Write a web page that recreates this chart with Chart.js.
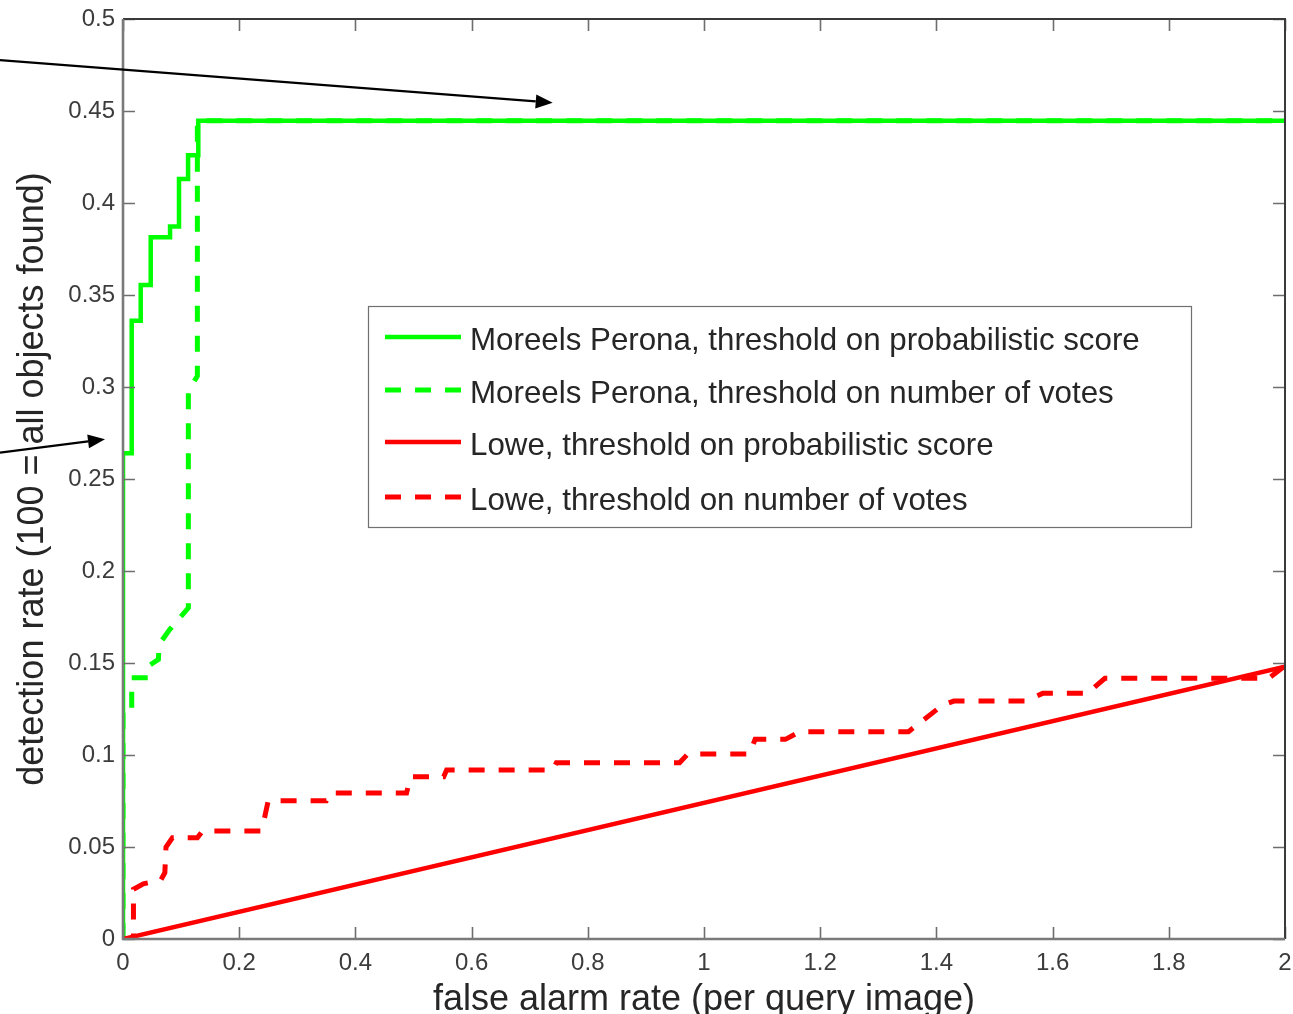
<!DOCTYPE html>
<html>
<head>
<meta charset="utf-8">
<script src="https://cdn.jsdelivr.net/npm/chart.js@4/dist/chart.umd.min.js"></script>
<style>
  html, body { margin: 0; padding: 0; background: #ffffff; overflow: hidden; }
  #wrap { width: 1293px; height: 1014px; position: relative; }
  #roc { display: block; }
</style>
</head>
<body>
<div id="wrap"><canvas id="roc" width="1293" height="1014"></canvas></div>
<script>
// Legend labels, in drawing order
const seriesLabels = [
  'Moreels Perona, threshold on probabilistic score',
  'Moreels Perona, threshold on number of votes',
  'Lowe, threshold on probabilistic score',
  'Lowe, threshold on number of votes'
];

// Moreels Perona, probabilistic score (step curve)
const mpScoreX = [0, 0, 0.015, 0.0305, 0.0477, 0.081, 0.0964, 0.112, 0.1296, 2];
const mpScoreY = [0, 0.264, 0.336, 0.3554, 0.3814, 0.3872, 0.413, 0.426, 0.4447, 0.4447];

// Moreels Perona, number of votes
const mpVotesX = [0, 0, 0.015, 0.015, 0.044, 0.047, 0.061, 0.062, 0.08, 0.1125, 0.1125, 0.128, 0.128, 2];
const mpVotesY = [0, 0.123, 0.123, 0.142, 0.142, 0.149, 0.152, 0.160, 0.168, 0.180, 0.298, 0.306, 0.4447, 0.4447];

// Lowe, probabilistic score
const loweScoreX = [0, 2];
const loweScoreY = [0, 0.148];

// Lowe, number of votes
const loweVotesX = [0, 0.018, 0.018, 0.035, 0.065, 0.072, 0.074, 0.085, 0.128, 0.137, 0.237, 0.243, 0.25,
                    0.35, 0.356, 0.488, 0.495, 0.552, 0.557, 0.74, 0.746, 0.958, 0.972, 1.078, 1.088,
                    1.14, 1.165, 1.352, 1.41, 1.43, 1.553, 1.583, 1.66, 1.69, 1.972, 2.0];
const loweVotesY = [0, 0, 0.027, 0.030, 0.032, 0.036, 0.05, 0.055, 0.055, 0.0587, 0.0587, 0.065, 0.0752,
                    0.0752, 0.0793, 0.0793, 0.0882, 0.0882, 0.0918, 0.0918, 0.0958, 0.0958, 0.1005, 0.1005, 0.1085,
                    0.1085, 0.1127, 0.1127, 0.127, 0.1293, 0.1293, 0.1335, 0.1335, 0.1417, 0.1417, 0.1485];

// Axis ranges and tick steps
const xRange = [0, 2];
const yRange = [0, 0.5];
const xStep = 0.2;
const yStep = 0.05;

// Axis titles
const xTitle = 'false alarm rate (per query image)';
const yTitle = 'detection rate (100 = all objects found)';

// Annotation arrows, in axis units (start -> head)
const arrowFromX = [-0.2117, -0.2117];
const arrowFromY = [0.4777, 0.2643];
const arrowToX   = [0.7396, -0.031];
const arrowToY   = [0.4545, 0.2716];

const GREEN = '#00ff00';
const RED = '#ff0000';
const DASH = [16, 14];

function toPoints(xs, ys) { return xs.map((x, i) => ({ x, y: ys[i] })); }

const FONT = "'Liberation Sans', Arial, Helvetica, sans-serif";

// Inward ticks on all four sides plus the axes box
const boxPlugin = {
  id: 'boxPlugin',
  afterDatasetsDraw(chart) {
    const { ctx, chartArea: a, scales: { x, y } } = chart;
    const len = 12;
    ctx.save();
    ctx.strokeStyle = '#6e6e6e';
    ctx.lineWidth = 1.6;
    ctx.beginPath();
    x.ticks.forEach(t => {
      const px = Math.round(x.getPixelForValue(t.value)) + 0.5;
      ctx.moveTo(px, a.bottom); ctx.lineTo(px, a.bottom - len);
      ctx.moveTo(px, a.top); ctx.lineTo(px, a.top + len);
    });
    y.ticks.forEach(t => {
      const py = Math.round(y.getPixelForValue(t.value)) + 0.5;
      ctx.moveTo(a.left, py); ctx.lineTo(a.left + len, py);
      ctx.moveTo(a.right, py); ctx.lineTo(a.right - len, py);
    });
    ctx.stroke();
    // top and right edges
    ctx.strokeStyle = '#3a3a3a';
    ctx.lineWidth = 2;
    ctx.beginPath();
    ctx.moveTo(a.left, a.top); ctx.lineTo(a.right, a.top); ctx.lineTo(a.right, a.bottom);
    ctx.stroke();
    // left and bottom edges
    ctx.strokeStyle = '#7a7a7a';
    ctx.lineWidth = 2.6;
    ctx.beginPath();
    ctx.moveTo(a.left, a.top); ctx.lineTo(a.left, a.bottom); ctx.lineTo(a.right, a.bottom);
    ctx.stroke();
    ctx.restore();
  }
};

// Boxed legend inside the plot
const legendPlugin = {
  id: 'legendPlugin',
  afterDatasetsDraw(chart) {
    const { ctx } = chart;
    const box = { left: 368, top: 306, right: 1191, bottom: 527 };
    const rows = [337, 390, 442, 497];
    ctx.save();
    ctx.fillStyle = '#ffffff';
    ctx.fillRect(box.left, box.top, box.right - box.left, box.bottom - box.top);
    ctx.strokeStyle = '#707070';
    ctx.lineWidth = 1.2;
    ctx.strokeRect(box.left + 0.5, box.top + 0.5, box.right - box.left, box.bottom - box.top);
    chart.data.datasets.forEach((ds, i) => {
      const yy = rows[i];
      ctx.strokeStyle = ds.borderColor;
      ctx.lineWidth = ds.borderWidth;
      ctx.setLineDash(ds.borderDash || []);
      ctx.lineDashOffset = 0;
      ctx.beginPath();
      ctx.moveTo(385, yy); ctx.lineTo(461, yy);
      ctx.stroke();
      ctx.setLineDash([]);
      ctx.fillStyle = '#262626';
      ctx.font = '31.3px ' + FONT;
      ctx.textAlign = 'left';
      ctx.textBaseline = 'alphabetic';
      ctx.fillText(ds.label, 470, yy + 13);
    });
    ctx.restore();
  }
};

// Annotation arrows drawn through the axis scales
const arrowPlugin = {
  id: 'arrowPlugin',
  afterDraw(chart) {
    const { ctx, scales: { x, y } } = chart;
    ctx.save();
    ctx.strokeStyle = '#000000';
    ctx.fillStyle = '#000000';
    ctx.lineWidth = 2.2;
    for (let i = 0; i < arrowFromX.length; i++) {
      const x0 = x.getPixelForValue(arrowFromX[i]);
      const y0 = y.getPixelForValue(arrowFromY[i]);
      const x1 = x.getPixelForValue(arrowToX[i]);
      const y1 = y.getPixelForValue(arrowToY[i]);
      const ang = Math.atan2(y1 - y0, x1 - x0);
      const hl = 17, hw = 7;
      const bx = x1 - hl * Math.cos(ang), by = y1 - hl * Math.sin(ang);
      ctx.beginPath();
      ctx.moveTo(x0, y0); ctx.lineTo(bx, by);
      ctx.stroke();
      ctx.beginPath();
      ctx.moveTo(x1, y1);
      ctx.lineTo(bx - hw * Math.sin(ang), by + hw * Math.cos(ang));
      ctx.lineTo(bx + hw * Math.sin(ang), by - hw * Math.cos(ang));
      ctx.closePath();
      ctx.fill();
    }
    ctx.restore();
  }
};

const fmt = v => String(+Number(v).toFixed(2));

new Chart(document.getElementById('roc'), {
  type: 'scatter',
  data: {
    datasets: [
      { label: seriesLabels[0], data: toPoints(mpScoreX, mpScoreY), showLine: true, stepped: true,
        borderColor: GREEN, borderWidth: 4.5, pointRadius: 0, order: 3 },
      { label: seriesLabels[1], data: toPoints(mpVotesX, mpVotesY), showLine: true,
        borderColor: GREEN, borderWidth: 5, borderDash: DASH, pointRadius: 0, order: 2 },
      { label: seriesLabels[2], data: toPoints(loweScoreX, loweScoreY), showLine: true,
        borderColor: RED, borderWidth: 4.5, pointRadius: 0, order: 1 },
      { label: seriesLabels[3], data: toPoints(loweVotesX, loweVotesY), showLine: true,
        borderColor: RED, borderWidth: 5, borderDash: DASH, pointRadius: 0, order: 0 }
    ]
  },
  options: {
    responsive: false,
    maintainAspectRatio: false,
    animation: false,
    devicePixelRatio: 1,
    layout: { padding: { top: 19, right: 8, left: 0, bottom: 0 } },
    plugins: { legend: { display: false }, tooltip: { enabled: false } },
    elements: { line: { borderCapStyle: 'butt', borderJoinStyle: 'miter', tension: 0 } },
    scales: {
      x: {
        type: 'linear', min: xRange[0], max: xRange[1],
        grid: { display: false, drawTicks: false },
        border: { display: false },
        ticks: { stepSize: xStep, callback: fmt, color: '#3c3c3c', padding: 10,
                 font: { family: FONT, size: 24 }, maxRotation: 0, autoSkip: false },
        title: { display: true, text: xTitle, color: '#262626',
                 font: { family: FONT, size: 36, lineHeight: 0.8 }, padding: { top: 0, bottom: 0 } },
        afterFit(s) { s.height = 75; s.paddingLeft = 0; s.paddingRight = 0; }
      },
      y: {
        type: 'linear', min: yRange[0], max: yRange[1],
        grid: { display: false, drawTicks: false },
        border: { display: false },
        ticks: { stepSize: yStep, callback: fmt, color: '#3c3c3c', padding: 8,
                 font: { family: FONT, size: 24 }, autoSkip: false },
        title: { display: true, text: yTitle, color: '#262626',
                 font: { family: FONT, size: 36 }, padding: { top: 11, bottom: 0 } },
        afterFit(s) { s.width = 123; s.paddingTop = 0; s.paddingBottom = 0; }
      }
    }
  },
  plugins: [boxPlugin, legendPlugin, arrowPlugin]
});
</script>
</body>
</html>
